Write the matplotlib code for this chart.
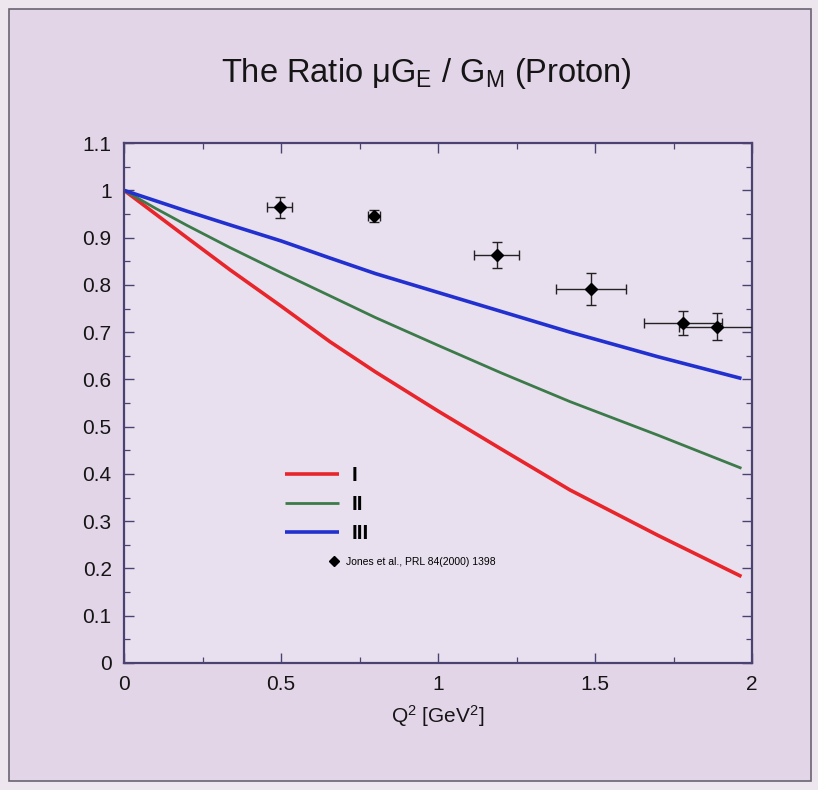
import matplotlib
matplotlib.use("Agg")
import matplotlib.pyplot as plt
from matplotlib.ticker import MultipleLocator
from matplotlib.patches import Rectangle
from matplotlib.lines import Line2D

plt.rcParams['font.family'] = ['Liberation Sans', 'DejaVu Sans']
plt.rcParams['mathtext.fontset'] = 'custom'
plt.rcParams['mathtext.rm'] = 'Liberation Sans'
plt.rcParams['mathtext.it'] = 'Liberation Sans:italic'
plt.rcParams['mathtext.bf'] = 'Liberation Sans:bold'

# ---- data ----
q2 = [0.0, 0.1, 0.2, 0.337, 0.5, 0.655, 0.8, 1.0, 1.2, 1.42, 1.7, 1.966]
ratio_I = [1.0, 0.95, 0.9, 0.832, 0.755, 0.680, 0.616, 0.533, 0.453, 0.366, 0.27, 0.183]
ratio_II = [1.0, 0.962, 0.926, 0.879, 0.826, 0.777, 0.731, 0.672, 0.614, 0.553, 0.482, 0.412]
ratio_III = [1.0, 0.978, 0.956, 0.927, 0.893, 0.857, 0.824, 0.784, 0.744, 0.70, 0.648, 0.602]

jones_q2 = [0.496, 0.796, 1.186, 1.486, 1.779, 1.887]
jones_ratio = [0.964, 0.946, 0.863, 0.791, 0.719, 0.712]
jones_yerr = [0.023, 0.013, 0.027, 0.034, 0.025, 0.029]
jones_xerr = [0.04, 0.02, 0.071, 0.112, 0.124, 0.12]

series_labels = ['I', 'II', 'III']
series_colors = ['#e8252a', '#3d7a4a', '#2230d0']
data_label = 'Jones et al., PRL 84(2000) 1398'
title = r'The Ratio $\mathrm{\mu G_E}$ / $\mathrm{G_M}$ (Proton)'
xlabel = r'$\mathrm{Q^2}$ [GeV$\mathrm{^2}$]'

# ---- figure ----
fig = plt.figure(figsize=(8.18, 7.9), dpi=100)
fig.patch.set_facecolor('#ede6ef')
fig.patches.append(Rectangle((0.011, 0.012), 0.98, 0.976, transform=fig.transFigure,
                             facecolor='#e3d5e8', edgecolor='#6a6470', lw=1.2, zorder=-10))

ax = fig.add_axes([0.1518, 0.1608, 0.7677, 0.658])
ax.set_zorder(2)
ax.set_facecolor('#e8e0ee')

lws = [2.6, 2.0, 2.6]
for y, lab, c, lw in zip([ratio_I, ratio_II, ratio_III], series_labels, series_colors, lws):
    ax.plot(q2, y, color=c, lw=lw, label=lab, solid_capstyle='butt')

eb = ax.errorbar(jones_q2, jones_ratio, xerr=jones_xerr, yerr=jones_yerr, fmt='D',
                 color='black', ms=6.5, ecolor='#222222', elinewidth=1.0, capsize=3.5,
                 capthick=1.0, label=data_label, zorder=5)

ax.set_xlim(0, 2)
ax.set_ylim(0, 1.1)
ax.xaxis.set_major_locator(MultipleLocator(0.5))
ax.xaxis.set_minor_locator(MultipleLocator(0.25))
ax.yaxis.set_major_locator(MultipleLocator(0.1))
ax.yaxis.set_minor_locator(MultipleLocator(0.05))
ax.xaxis.set_major_formatter(plt.FuncFormatter(lambda v, p: f'{v:g}'))
ax.yaxis.set_major_formatter(plt.FuncFormatter(lambda v, p: f'{v:g}'))
spine_c = '#4a4270'
for s in ax.spines.values():
    s.set_color(spine_c)
    s.set_linewidth(1.6)
ax.tick_params(which='both', direction='in', top=True, right=True, color=spine_c,
               labelsize=15, labelcolor='#151515')
ax.tick_params(which='major', length=7, width=1.0, pad=9)
ax.tick_params(which='minor', length=4, width=0.9)

ax.set_xlabel(xlabel, fontsize=15, labelpad=6, color='#151515')
fig.text(0.521, 0.907, title, ha='center', va='center', fontsize=23.5, color='#151515')

leg1 = ax.legend(handles=ax.get_lines()[:3], labels=series_labels,
                 loc='upper left', bbox_to_anchor=(0.226, 0.415), frameon=False,
                 handlelength=2.6, handletextpad=0.6, labelspacing=0.48,
                 prop={'family': ['Liberation Sans Narrow', 'Liberation Sans'],
                       'size': 15, 'weight': 'bold'})
ax.add_artist(leg1)
h = Line2D([], [], marker='D', color='black', ls='none', ms=5.5)
ax.legend(handles=[h], labels=[data_label], loc='upper left',
          bbox_to_anchor=(0.313, 0.222), frameon=False, handlelength=0.8,
          handletextpad=0.7, prop={'size': 7.5})

fig.savefig('out.png', dpi=100, facecolor=fig.get_facecolor())
